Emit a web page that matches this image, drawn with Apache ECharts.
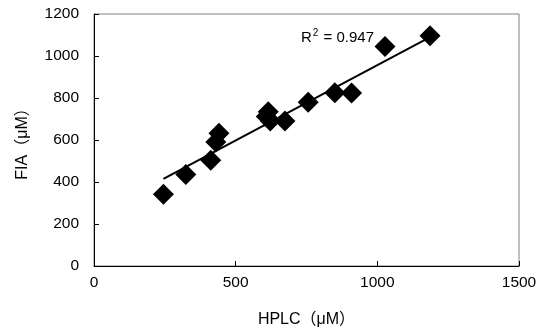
<!DOCTYPE html>
<html><head><meta charset="utf-8">
<script src="https://cdn.jsdelivr.net/npm/echarts@6/dist/echarts.min.js"></script>
<style>html,body{margin:0;padding:0;background:#fff}#c{width:547px;height:333px}</style>
</head><body><div id="c"></div>
<script>
const hplc = [245, 324, 412, 430, 441, 608, 615, 622, 674, 756, 850, 909, 1027, 1186];
const fia  = [342, 436, 503, 590, 632, 712, 735, 690, 690, 780, 825, 824, 1045, 1096];
const trendX = [245, 1186];
const trendY = [415, 1090];
const xTicks = [0, 500, 1000, 1500];
const yTicks = [0, 200, 400, 600, 800, 1000, 1200];
const r2Text = '0.947';

const font = '"Liberation Sans", Arial, "Noto Sans CJK JP", sans-serif';
const chart = echarts.init(document.getElementById('c'));
chart.setOption({
  animation: false,
  backgroundColor: '#fff',
  grid: {left: 94, top: 14, right: 28, bottom: 66, show: true, borderColor: '#808080', borderWidth: 1, backgroundColor: 'transparent'},
  xAxis: {
    type: 'value', min: xTicks[0], max: xTicks[xTicks.length-1], interval: 500,
    name: 'HPLC（μM）', nameLocation: 'middle', nameGap: 46,
    nameTextStyle: {color: '#000', fontSize: 16, fontFamily: font},
    axisLine: {show: true, lineStyle: {color: '#000', width: 1}},
    axisTick: {show: true, inside: true, length: 5, lineStyle: {color: '#000'}},
    axisLabel: {color: '#000', fontSize: 15.5, fontFamily: font, margin: 9, formatter: v => String(v)},
    splitLine: {show: false}
  },
  yAxis: {
    type: 'value', min: yTicks[0], max: yTicks[yTicks.length-1], interval: 200,
    name: 'FIA（μM）', nameLocation: 'middle', nameGap: 63, nameRotate: 90,
    nameTextStyle: {color: '#000', fontSize: 16, fontFamily: font},
    axisLine: {show: true, lineStyle: {color: '#000', width: 1}},
    axisTick: {show: true, inside: true, length: 5, lineStyle: {color: '#000'}},
    axisLabel: {color: '#000', fontSize: 15.5, fontFamily: font, margin: 15, formatter: v => String(v)},
    splitLine: {show: false}
  },
  series: [
    {
      type: 'line', data: trendX.map((x,i)=>[x, trendY[i]]), showSymbol: false, symbol: 'none',
      lineStyle: {color: '#000', width: 2}, z: 3, silent: true
    },
    {
      type: 'scatter', data: hplc.map((x,i)=>[x, fia[i]]), symbol: 'diamond', symbolSize: [21, 21],
      itemStyle: {color: '#000', opacity: 1}, z: 2, silent: true
    }
  ],
  graphic: [{
    type: 'text', left: 301, top: 28,
    style: {
      text: '{a|R}{s|2}{a| = ' + r2Text + '}',
      rich: {
        a: {fontSize: 15, fontFamily: font, fill: '#000'},
        s: {fontSize: 10, fontFamily: font, fill: '#000', padding: [0,1,9,1]}
      }
    }
  }]
});
</script></body></html>
